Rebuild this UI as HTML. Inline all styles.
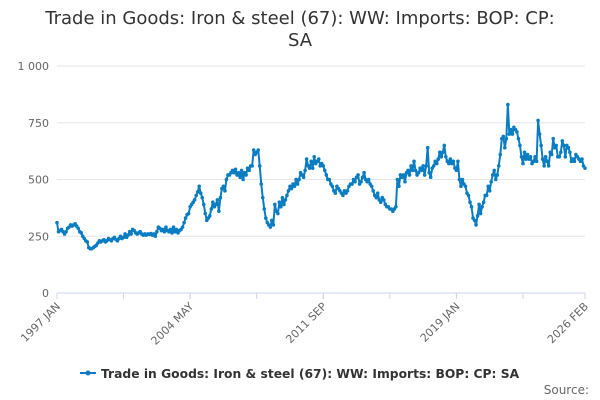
<!DOCTYPE html>
<html><head><meta charset="utf-8"><style>
body{margin:0;background:#fff;font-family:"DejaVu Sans",sans-serif}
#wrap{position:relative;width:600px;height:400px;overflow:hidden}
</style></head><body>
<div id="wrap">
<svg id="chart" width="600" height="400" font-family="DejaVu Sans, sans-serif">
<text x="300" y="24" text-anchor="middle" font-size="18" fill="#333">Trade in Goods: Iron &amp; steel (67): WW: Imports: BOP: CP:<tspan x="300" dy="22">SA</tspan></text>
<g id="grid"></g><g id="xaxis"></g><g id="series"></g>
<g>
<line x1="80" y1="373" x2="96" y2="373" stroke="#0a7dc2" stroke-width="2"/>
<circle cx="88" cy="373" r="2.5" fill="#0a7dc2"/>
<text x="101" y="378" font-size="12.3" font-weight="bold" fill="#333">Trade in Goods: Iron &amp; steel (67): WW: Imports: BOP: CP: SA</text>
</g>
<text x="589" y="394" text-anchor="end" font-size="12" fill="#666">Source:</text>
</svg>
</div>
<script>
const yTicks=[0,250,500,750,1000];
const yTickLabels=["0","250","500","750","1 000"];
const xTickLabels=["1997 JAN","2004 MAY","2011 SEP","2019 JAN","2026 FEB"];
const xTickIndex=[0,88,176,264,349];
const values=[
310,270,275,280,270,260,270,285,290,300,295,300,
305,295,285,270,265,250,240,230,225,200,195,195,
200,205,210,220,230,225,230,235,225,230,240,235,
230,240,245,235,230,240,250,240,245,260,245,255,
270,260,280,275,265,260,265,270,260,255,260,255,
260,258,262,255,260,250,270,290,285,275,280,270,
290,275,270,280,265,290,270,280,265,275,280,290,
310,330,345,350,380,390,400,410,430,445,470,440,
420,390,350,320,330,340,370,400,380,390,410,360,
420,460,470,450,500,520,520,530,540,530,545,520,
530,510,540,500,530,520,550,540,560,560,630,610,
620,630,560,480,420,370,330,310,300,290,320,300,
390,360,350,400,380,420,390,410,430,450,470,460,
480,470,500,480,500,530,520,510,540,590,560,550,
580,550,600,570,580,590,560,570,560,540,520,500,
500,480,470,450,440,470,460,450,440,430,450,440,
450,470,480,480,500,490,510,520,480,490,510,530,
500,490,500,480,470,450,430,420,440,410,400,420,
410,390,380,380,370,370,360,370,380,500,470,520,
510,520,490,530,540,520,560,540,580,540,520,530,
550,540,560,520,560,640,530,510,550,560,580,570,
590,620,600,620,650,600,580,570,590,570,580,550,
540,580,500,470,500,480,470,440,430,400,380,330,
320,300,340,390,350,380,400,430,430,470,450,490,
520,540,500,520,560,610,680,690,640,680,830,700,
720,700,730,720,710,680,650,600,570,620,590,610,
590,600,570,580,600,580,760,700,650,590,560,600,
580,560,620,610,680,640,650,600,600,620,670,650,
600,650,640,620,580,590,580,610,600,590,580,590,
560,550];
const NS="http://www.w3.org/2000/svg";
const X0=57,X1=585,Y0=293,Y1=66;
const xs=i=>X0+(X1-X0)*i/(values.length-1);
const ys=v=>Y0-(Y0-Y1)*v/1000;
function mk(t,a,p){const e=document.createElementNS(NS,t);for(const k in a)e.setAttribute(k,a[k]);p.appendChild(e);return e;}
const grid=document.getElementById('grid');
yTicks.forEach((v,i)=>{
  const l=mk('line',{x1:X0,x2:X1,y1:ys(v),y2:ys(v),stroke:i===0?'#ccd6eb':'#e6e6e6'},grid);
  
  
  const t=mk('text',{x:X0-8,y:ys(v)+4,'text-anchor':'end','font-size':11,fill:'#666'},grid);
  t.textContent=yTickLabels[i];
  
  
});
const xa=document.getElementById('xaxis');
for(let i=0;i<values.length;i+=44){
  const tk=mk('line',{x1:xs(i),x2:xs(i),y1:Y0,y2:Y0+6,stroke:'#ccd6eb'},xa);
  
  
}
xTickIndex.forEach((idx,i)=>{
  const x=xs(idx);
  const tk=mk('line',{x1:x,x2:x,y1:Y0,y2:Y0+6,stroke:'#ccd6eb'},xa);
  
  
  const t=mk('text',{x:x+4,y:Y0+14,'text-anchor':'end','font-size':11,fill:'#666',transform:`rotate(-45 ${x+4} ${Y0+14})`},xa);
  t.textContent=xTickLabels[i];
  
  
});
const sg=document.getElementById('series');
const path=mk('polyline',{points:values.map((v,i)=>xs(i)+','+ys(v)).join(' '),fill:'none',stroke:'#0a7dc2','stroke-width':2,'stroke-linejoin':'round'},sg);


values.forEach((v,i)=>{
  const c=mk('circle',{cx:xs(i),cy:ys(v),r:1.8,fill:'#0a7dc2'},sg);
  
  
});
</script>
</body></html>
